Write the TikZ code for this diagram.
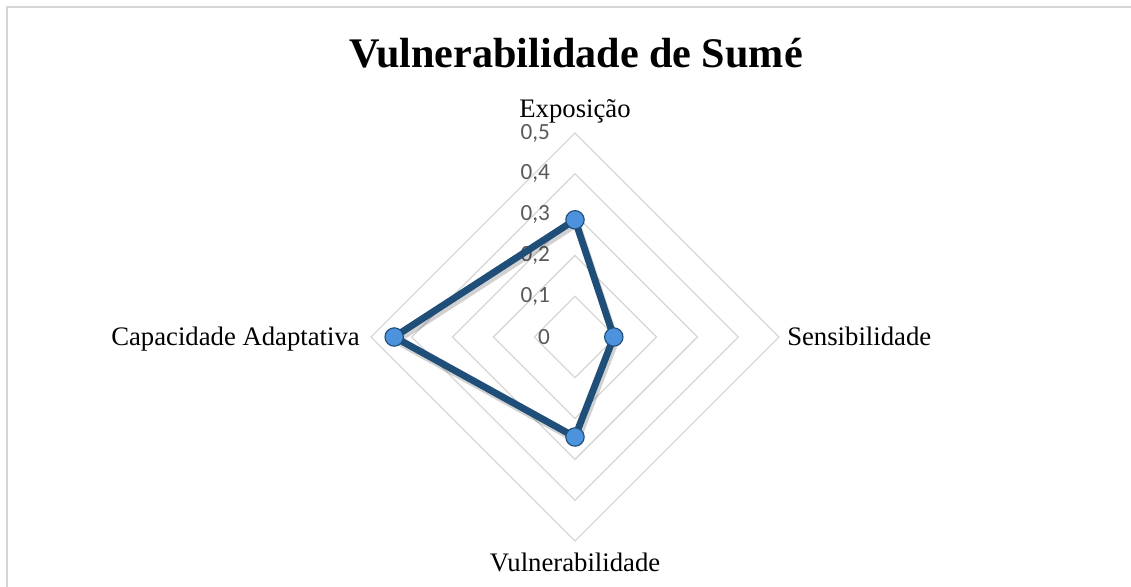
\documentclass[tikz,border=0pt]{standalone}
\usepackage{fontspec}
\setmainfont{Liberation Serif}
\newfontfamily\axisfont{Carlito}
\usepackage{tikz}
\usetikzlibrary{calc}
\definecolor{seriesblue}{RGB}{31,78,121}
\definecolor{markerblue}{RGB}{76,146,220}
\definecolor{gridgray}{RGB}{214,214,214}
\definecolor{ticktext}{RGB}{89,89,89}

\begin{document}
\begin{tikzpicture}[
  grid/.style={draw=gridgray, line width=0.9pt},
  ticklabel/.style={anchor=east, text=ticktext, font=\axisfont\fontsize{16.5}{16.5}\selectfont, inner sep=0pt},
  axislabel/.style={font=\fontsize{19}{19}\selectfont, inner sep=0pt},
  series/.style={draw=seriesblue, line width=4.9pt, line join=round},
  marker/.style={circle, fill=markerblue, draw=seriesblue, line width=0.8pt, minimum size=0.46cm, inner sep=0pt}
]
\useasboundingbox (-14.375,-6.25) rectangle (13.9,8.425);

% Chart frame
\draw[gridgray, line width=1.2pt] (-14.2,-6.25) -- (-14.2,8.25) -- (13.9,8.25);

% Title
\node[font=\fontsize{30}{30}\selectfont\bfseries, anchor=base, inner sep=0pt] (title) at (0.03,6.725) {Vulnerabilidade de Sumé};

% Grid rings
\draw[grid] (0,1.02) -- (1.02,0) -- (0,-1.02) -- (-1.02,0) -- cycle;
\draw[grid] (0,2.04) -- (2.04,0) -- (0,-2.04) -- (-2.04,0) -- cycle;
\draw[grid] (0,3.06) -- (3.06,0) -- (0,-3.06) -- (-3.06,0) -- cycle;
\draw[grid] (0,4.08) -- (4.08,0) -- (0,-4.08) -- (-4.08,0) -- cycle;
\draw[grid] (0,5.10) -- (5.10,0) -- (0,-5.10) -- (-5.10,0) -- cycle;

% Scale values
\node[ticklabel] (t0) at (-0.62,0) {0};
\node[ticklabel] (t1) at (-0.62,1.02) {0,1};
\node[ticklabel] (t2) at (-0.62,2.04) {0,2};
\node[ticklabel] (t3) at (-0.62,3.06) {0,3};
\node[ticklabel] (t4) at (-0.62,4.08) {0,4};
\node[ticklabel] (t5) at (-0.62,5.10) {0,5};

% Axis names
\node[axislabel, anchor=base] (expolabel) at (0,5.475) {Exposição};
\node[axislabel, anchor=base west] (senslabel) at (5.3,-0.225) {Sensibilidade};
\node[axislabel, anchor=base] (vulnlabel) at (0,-5.875) {Vulnerabilidade};
\node[axislabel, anchor=base east] (capalabel) at (-5.375,-0.225) {Capacidade Adaptativa};

% Data points
\coordinate (expo) at (0,2.93);
\coordinate (sens) at (0.97,0);
\coordinate (vuln) at (0,-2.5);
\coordinate (capa) at (-4.52,0);

% Shadow of the series
\draw[series, draw=black, opacity=0.18] ($(expo)+(0.05,-0.09)$) -- ($(sens)+(0.05,-0.09)$) -- ($(vuln)+(0.05,-0.09)$) -- ($(capa)+(0.05,-0.09)$) -- cycle;

% Series
\draw[series] (expo) -- (sens) -- (vuln) -- (capa) -- cycle;

% Markers
\node[marker] (mexpo) at (expo) {};
\node[marker] (msens) at (sens) {};
\node[marker] (mvuln) at (vuln) {};
\node[marker] (mcapa) at (capa) {};
\end{tikzpicture}
\end{document}
